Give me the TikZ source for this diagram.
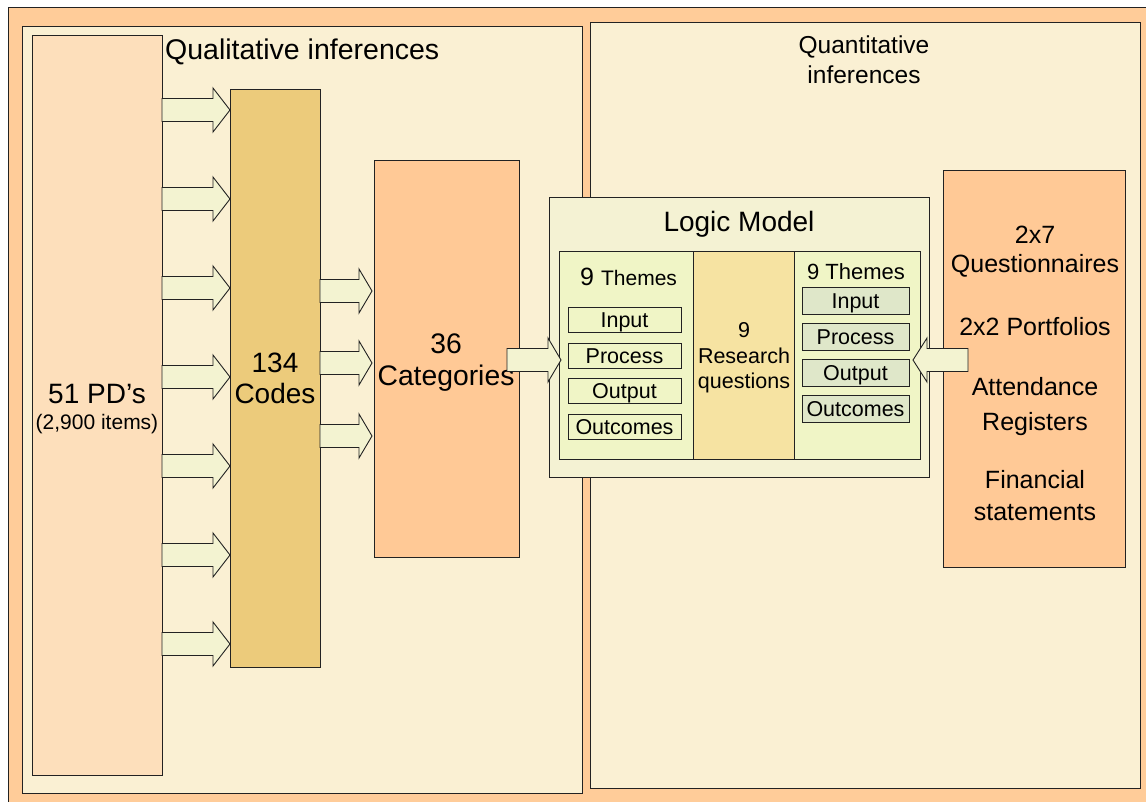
\documentclass[tikz,border=0pt]{standalone}
\usepackage{fontspec}
\setmainfont{Liberation Sans}
\usetikzlibrary{calc,shadows}

\definecolor{outerorange}{HTML}{FFCC99}
\definecolor{cream}{HTML}{FAF0D3}
\definecolor{pdpeach}{HTML}{FDDFBB}
\definecolor{codegold}{HTML}{ECCB7B}
\definecolor{catorange}{HTML}{FFC996}
\definecolor{logicbg}{HTML}{F4F2D3}
\definecolor{themegreen}{HTML}{F0F5C6}
\definecolor{rqyellow}{HTML}{F6E3A2}
\definecolor{itemgreen}{HTML}{DFE7C9}
\definecolor{arrowfill}{HTML}{F3F3D1}
\definecolor{edge}{HTML}{222222}

\newcommand\fs[1]{\fontsize{#1}{#1}\selectfont}

% block arrow: tail point, tip point, head length, direction (+1 right, -1 left)
\newcommand\blockarrow[4]{%
  \draw[barrow] let \p1=(#1), \p2=(#2) in
    (\x1,\y1+11.5pt) -- ({\x2-(#4)*(#3)},\y1+11.5pt) -- ({\x2-(#4)*(#3)},\y1+22pt)
    -- (\x2,\y1) -- ({\x2-(#4)*(#3)},\y1-22pt) -- ({\x2-(#4)*(#3)},\y1-11.5pt)
    -- (\x1,\y1-11.5pt) -- cycle;}

\tikzset{
  box/.style={draw=edge, line width=1pt, inner sep=0pt, outer sep=0pt, anchor=north west},
  shbox/.style={box, drop shadow={shadow xshift=1.2pt, shadow yshift=-1.2pt, opacity=0.3, fill=black!70}},
  itembox/.style={box, line width=0.9pt, font=\fs{21.5}, text height=15.4pt, text depth=0pt},
  txt/.style={anchor=base, inner sep=0pt, text=black},
  barrow/.style={draw=edge, line width=0.9pt, fill=arrowfill, line join=miter},
}

\begin{document}
\begin{tikzpicture}[x=1pt,y=-1pt]
\useasboundingbox (0,0) rectangle (1146,801);
\clip (0,0) rectangle (1146,801);
\fill[white] (0,0) rectangle (1146,801);

% frame and the two halves
\node[box, fill=outerorange, minimum width=1170, minimum height=830] (frame) at (8,7) {};
\node[shbox, fill=cream, minimum width=560, minimum height=767] (qual) at (22,26) {};
\node[shbox, fill=cream, minimum width=550, minimum height=766] (quant) at (590,22) {};

\node[txt, anchor=base west, font=\fs{28.5}] (qualtitle) at (165,59) {Qualitative inferences};
\node[txt, font=\fs{24.5}] (quanttitle1) at (864,53) {Quantitative};
\node[txt, font=\fs{24.5}] (quanttitle2) at (864,83) {inferences};

% qualitative chain
\node[shbox, fill=pdpeach, minimum width=130, minimum height=740] (pd) at (32,35) {};
\node[txt, font=\fs{28}] (pdtext1) at (97,403) {51 PD’s};
\node[txt, font=\fs{21}] (pdtext2) at (97,429) {(2,900 items)};

\node[shbox, fill=codegold, minimum width=90, minimum height=578] (codes) at (230,89) {};
\node[txt, font=\fs{28}] (codetext1) at (275,372) {134};
\node[txt, font=\fs{28}] (codetext2) at (275,403) {Codes};

\node[shbox, fill=catorange, minimum width=145, minimum height=397] (cat) at (374,160) {};
\node[txt, font=\fs{28.3}] (cattext1) at (446,353) {36};
\node[txt, font=\fs{28.3}] (cattext2) at (446,385) {Categories};

% logic model
\node[shbox, fill=logicbg, minimum width=380, minimum height=280] (logic) at (549,197) {};
\node[txt, font=\fs{28}] (logictitle) at (739,231) {Logic Model};

\node[box, fill=themegreen, minimum width=134, minimum height=208] (lth) at (559,251) {};
\node[box, fill=rqyellow, minimum width=101, minimum height=208] (rq) at (693,251) {};
\node[box, fill=themegreen, minimum width=126, minimum height=208] (rth) at (794,251) {};

\node[txt, anchor=base west] (lthtitle) at (580,285) {{\fs{25}9}\hspace{7pt}{\fs{21}Themes}};
\node[itembox, fill=themegreen, minimum width=113, minimum height=25] (lin) at (568,307) {Input};
\node[itembox, fill=themegreen, minimum width=113, minimum height=25] (lpr) at (568,343) {Process};
\node[itembox, fill=themegreen, minimum width=113, minimum height=25] (lou) at (568,378) {Output};
\node[itembox, fill=themegreen, minimum width=113, minimum height=25] (loc) at (568,414) {Outcomes};

\node[txt, font=\fs{21.5}] (rqtext1) at (744,337) {9};
\node[txt, font=\fs{21.5}] (rqtext2) at (744,363) {Research};
\node[txt, font=\fs{21.5}] (rqtext3) at (744,388) {questions};

\node[txt, font=\fs{22}] (rthtitle) at (856,279) {9 Themes};
\node[itembox, fill=itemgreen, minimum width=107, minimum height=27] (rin) at (802,287) {Input};
\node[itembox, fill=itemgreen, minimum width=107, minimum height=27] (rpr) at (802,323) {Process};
\node[itembox, fill=itemgreen, minimum width=107, minimum height=27] (rou) at (802,359) {Output};
\node[itembox, fill=itemgreen, minimum width=107, minimum height=27] (roc) at (802,395) {Outcomes};

% quantitative sources
\node[shbox, fill=catorange, minimum width=182, minimum height=397] (src) at (943,170) {};
\node[txt, font=\fs{25}] (srctext1) at (1035,243) {2x7};
\node[txt, font=\fs{25}] (srctext2) at (1035,272) {Questionnaires};
\node[txt, font=\fs{25}] (srctext3) at (1035,335) {2x2 Portfolios};
\node[txt, font=\fs{25}] (srctext4) at (1035,395) {Attendance};
\node[txt, font=\fs{25}] (srctext5) at (1035,430) {Registers};
\node[txt, font=\fs{25}] (srctext6) at (1035,488) {Financial};
\node[txt, font=\fs{25}] (srctext7) at (1035,520) {statements};

% arrows: documents to codes
\foreach \yy in {110,199,288,377,466,555,644}
  \blockarrow{pd.east |- 0,\yy}{codes.west |- 0,\yy}{17pt}{1};
% codes to categories
\foreach \yy in {291,363,436}
  \blockarrow{codes.east |- 0,\yy}{[xshift=-2pt]cat.west |- 0,\yy}{13pt}{1};
% categories into the logic model
\blockarrow{[xshift=-12pt]cat.east |- 0,360}{[xshift=2pt]lth.west |- 0,360}{13pt}{1}
% sources into the logic model
\blockarrow{[xshift=25pt]src.west |- 0,360}{[xshift=-7pt]rth.east |- 0,360}{14pt}{-1}
\end{tikzpicture}
\end{document}
